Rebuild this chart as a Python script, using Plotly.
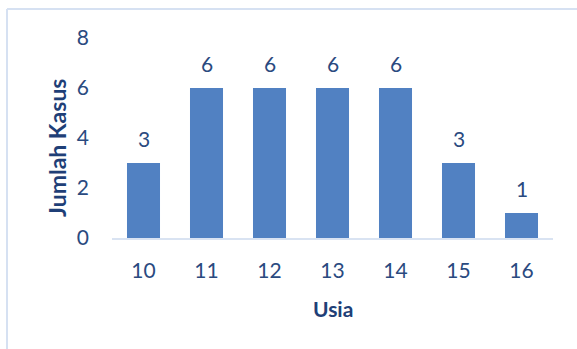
import plotly.graph_objects as go

usia = ["10", "11", "12", "13", "14", "15", "16"]
jumlah_kasus = [3, 6, 6, 6, 6, 3, 1]
y_ticks = [0, 2, 4, 6, 8]

text_color = "#2A4A7F"
title_color = "#1F3F77"
FONT = "Lato"

fig = go.Figure()
fig.add_trace(go.Bar(
    x=usia,
    y=jumlah_kasus,
    marker=dict(color="#5181C2", line=dict(width=0)),
    hoverinfo="x+y",
))

annotations = [
    dict(x=i, y=v, text=str(v), showarrow=False, yshift=25, yanchor="middle",
         xref="x", yref="y", font=dict(family=FONT, size=21, color=text_color))
    for i, v in enumerate(jumlah_kasus)
]
annotations.append(dict(text="<b>Usia</b>", x=0.5, y=-0.35, xref="paper", yref="paper",
                        showarrow=False, yanchor="middle", xanchor="center",
                        font=dict(family=FONT, size=21, color=title_color)))
annotations.append(dict(text="<b>Jumlah Kasus</b>", x=-0.125, y=0.45, xref="paper", yref="paper",
                        showarrow=False, textangle=-90, yanchor="middle", xanchor="center",
                        font=dict(family=FONT, size=23, color=title_color)))

ml, mr, mt, mb = 112, 24, 38, 111
pw = 577 - ml - mr
ph = 349 - mt - mb
border_col = "#D6E1F2"
x_left = (7 - ml) / pw
y_top = (349 - mb - 9) / ph

fig.update_layout(
    width=577, height=349,
    margin=dict(l=ml, r=mr, t=mt, b=mb),
    paper_bgcolor="white", plot_bgcolor="white",
    bargap=0.476,
    showlegend=False,
    annotations=annotations,
    shapes=[
        dict(type="line", xref="paper", yref="paper", x0=x_left, x1=1.2, y0=y_top, y1=y_top,
             line=dict(color=border_col, width=2)),
        dict(type="line", xref="paper", yref="paper", x0=x_left, x1=x_left, y0=y_top, y1=-0.7,
             line=dict(color=border_col, width=2)),
    ],
    xaxis=dict(
        type="category", range=[-0.5, len(usia) - 0.5], tickangle=0,
        showline=True, linecolor="#D9E3F2", linewidth=2,
        showgrid=False, ticks="", ticklabelstandoff=13,
        tickfont=dict(family=FONT, size=21, color=text_color),
    ),
    yaxis=dict(
        range=[0, 8], tickvals=y_ticks,
        showline=False, showgrid=False, zeroline=False, ticks="",
        ticklabelstandoff=22,
        tickfont=dict(family=FONT, size=21, color=text_color),
    ),
)

fig.write_html("out.html")
